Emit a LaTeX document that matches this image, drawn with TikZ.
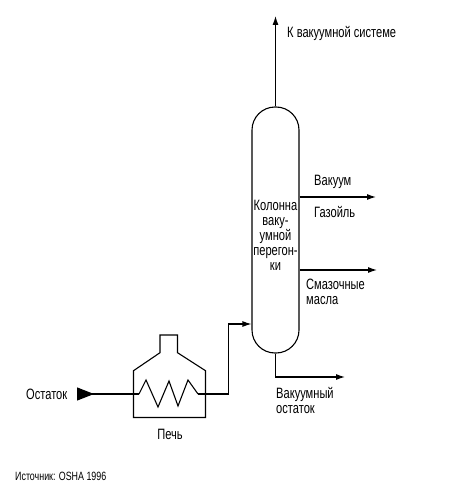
\documentclass[tikz,border=0pt]{standalone}
\usepackage{fontspec}
\setmainfont[FakeStretch=0.74]{Liberation Sans}
\usetikzlibrary{positioning,arrows.meta,calc}

\begin{document}
\begin{tikzpicture}[
    x=1pt, y=-1pt,
    pipe/.style={line width=1.1pt},
    arrow/.style={pipe, -{Latex[length=9pt,width=6pt]}},
    label/.style={font=\fontsize{15}{15}\selectfont, inner sep=0pt, align=left, anchor=west},
    column/.style={draw, line width=1.1pt, rounded corners=23pt, minimum width=47pt, minimum height=246pt, inner sep=0pt}
]
\useasboundingbox (0,0) rectangle (466,495);

\node[column] (column) at (275.5,230) {};
\node[label, anchor=center, align=center] (columnlabel) at (275.5,235.5) {Колонна\\ваку-\\умной\\перегон-\\ки};

% furnace outline
\draw[pipe] (133.5,370.7) -- (160,352.7) -- (160,335) -- (177.5,335) -- (177.5,352.7) -- (205.5,370.7)
    -- (205.5,417.5) -- (133.5,417.5) -- cycle;

% coil
\coordinate (coilin) at (139,394);
\coordinate (coilout) at (198,394);
\draw[pipe] (coilin) -- (146,380) -- (158,407) -- (169,381) -- (178,406) -- (188,380) -- (coilout);

\coordinate (feed) at (77,394);
\coordinate (riser) at (228.5,394);
\coordinate (vacuumend) at (376,197);
\coordinate (oilend) at (377,270);
\coordinate (topend) at (275.5,16);
\coordinate (residueend) at (345,377);

\draw[pipe, {Triangle[reversed,length=17pt,width=13pt]}-] (feed) -- (coilin);
\draw[arrow] (coilout) -- (riser) |- (column.west |- 0,324);
\draw[arrow] (column.north) -- (topend);
\draw[arrow] (column.east |- vacuumend) -- (vacuumend);
\draw[arrow] (column.east |- oilend) -- (oilend);
\draw[arrow] (column.south) |- (residueend);

\node[label] (feedlabel) at (26,394) {Остаток};
\node[label, anchor=center] (furnacelabel) at (170,434) {Печь};
\node[label] (source) at (15,476) {\fontsize{12}{13}\selectfont Источник: OSHA 1996};
\node[label] (toplabel) at (287,33) {К вакуумной системе};
\node[label] (vacuumlabel) at (314,182) {Вакуум};
\node[label] (gasoillabel) at (314,212) {Газойль};
\node[label] (oillabel) at (306,291.5) {Смазочные\\масла};
\node[label] (residuelabel) at (276,400.5) {Вакуумный\\остаток};
\end{tikzpicture}
\end{document}
